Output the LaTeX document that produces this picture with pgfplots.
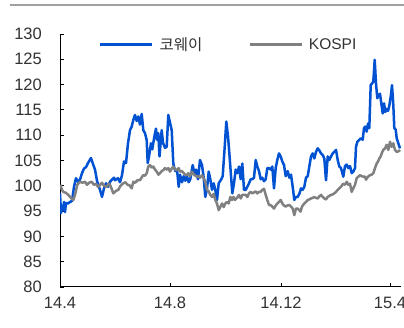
\documentclass[border=0pt]{standalone}
\usepackage{pgfplots}
\pgfplotsset{compat=1.18}
\usepackage{fontspec}
\setmainfont{Liberation Sans}
\newfontfamily\kr{Noto Sans CJK KR}
\definecolor{cwblue}{RGB}{0,82,210}
\definecolor{kgray}{RGB}{128,128,128}
\definecolor{txt}{RGB}{50,50,50}
\begin{document}
\begin{tikzpicture}[x=1pt,y=1pt]
\useasboundingbox (-60,-41) rectangle (344,287);
\draw[color={rgb,255:red,160;green,160;blue,160}, line width=1.3pt] (-50,282) -- (344,282);
\begin{axis}[
  scale only axis, width=341pt, height=253pt,
  xmin=60, xmax=401, ymin=80, ymax=130,
  axis x line*=bottom, axis y line*=left,
  axis line style={black, line width=1pt, -},
  xtick={60,170,281,390}, xticklabels={14.4,14.8,14.12,15.4},
  ytick={80,85,...,130},
  tick align=inside, major tick length=4pt,
  tick style={black, line width=0.8pt},
  /pgf/number format/assume math mode=true,
  ticklabel style={font=\fontsize{16.5}{17}\selectfont, text=txt},
  yticklabel style={inner sep=0pt, xshift=-18pt},
  xticklabel style={inner sep=0pt, yshift=-10pt},
  legend columns=2,
  legend style={draw=none, fill=none, inner sep=0pt, at={(axis description cs:0,1)}, anchor=north west, xshift=39pt, yshift=-2pt,
    font=\fontsize{15.5}{16}\selectfont, text=txt,
    nodes={inner xsep=6pt, inner ysep=1pt},
    /tikz/every even column/.append style={column sep=40pt}},
  legend image code/.code={\draw[#1] (0pt,0pt) -- (52pt,0pt);},
]
\addplot[cwblue, line width=2.5pt, line join=round] coordinates {
(60,98.5)(61,94.6)(62,96)(63,95.2)(64,96.8)(65,94.8)(66,96.6)(68,96.5)(70,96.8)(72,97)(74,99.8)(76,101.5)(78,100.8)(80,101.2)(82,102.5)(84,103.4)(86,103.7)(88,104.5)(91,105.5)(93,104.3)(95,103.2)(97,101)(100,99.2)(102,97.8)(104,99.5)(106,100.5)(108,99.8)(110,100.8)(112,101.2)(114,101.6)(115,101.1)(118,101.5)(120,100.7)(122,102.1)(124,104.8)(126,104.5)(128,108.4)(130,111)(131.7,111.7)(133.3,113)(135,114)(136.7,112.8)(138.3,113.7)(140,112.1)(141.7,114.2)(143.3,111)(145,110.4)(146.7,109)(147.7,104.5)(149,105.8)(151,108.4)(152.3,107.2)(154.3,109.7)(156,111.3)(157,109.1)(158.3,110.4)(159.5,105.8)(161.7,111)(163,108.5)(165,107.5)(166.7,107.7)(168.3,114)(170,112.5)(171.7,111)(173.3,104.4)(174,103.8)(175.3,102.9)(177,103.2)(178.7,99.8)(180,102.2)(182,100.7)(183.7,101.9)(185.3,101)(187,101.9)(188.7,100.7)(190.3,101.3)(192.7,104.1)(194.7,102.2)(196,103.2)(198,101.3)(200,105.1)(202,104.1)(203.7,101.6)(205.3,97.8)(207,99.4)(208.7,102.8)(210.3,101.3)(212,99.2)(213.7,100.5)(215.3,99.2)(217,97.2)(218.7,100.5)(221.3,101.3)(222.7,101.9)(224.7,107.7)(226.3,112.7)(228,109.8)(229.5,106)(231,102)(232.3,98.5)(234,100.5)(235.7,103.2)(237.3,102.5)(239,103.8)(240.7,101.3)(242.3,104.4)(244,99.2)(245.7,99.2)(247.3,99.8)(249,100.5)(250.7,101.3)(252.3,101.3)(254,101.6)(255.7,105.1)(257.3,103.8)(259,102.9)(260.7,101.3)(262.3,101.6)(264,100.9)(265.7,101.3)(267.3,103.5)(269,103.5)(270.7,103.2)(272.3,103.8)(274,99.5)(275.7,103.5)(277.3,105.1)(279,106.4)(280.7,105.8)(282.3,104.8)(284,104.1)(285.7,101.9)(287.7,102.9)(289.3,101.6)(291,102.2)(292.7,99.8)(294.3,97.2)(296,97.8)(297.7,97.8)(299.3,98.4)(301,99.5)(302.7,99.2)(304.3,99.8)(306,101.6)(307.7,101.9)(309.3,103.8)(311,105.8)(312.7,106.4)(314.3,105.4)(316,106.7)(317.7,107.4)(319.3,107)(321,106.4)(322.7,106.1)(324.3,105.4)(326,101.1)(327.7,105.8)(329.3,105.1)(331,105.8)(332.7,106.4)(334.3,106.7)(336,107.1)(337.7,105.1)(339.3,103.8)(341,103.5)(343.3,101.8)(345,103.9)(346.7,104.2)(348.3,103.5)(350,103.9)(351.7,102.5)(353.3,102.8)(355,103.5)(356,107.7)(357.3,108.7)(359.3,109.1)(361,109.4)(362.7,109.1)(364,111.4)(365.3,111.7)(366.7,110.7)(368,112.3)(369.3,111.4)(370.7,119.9)(372,120.2)(373.3,120.6)(374.7,124.9)(376,120.2)(377.3,117.3)(378.7,117.9)(380,118.2)(381.3,116.3)(382.7,114.3)(384,116.3)(385.3,114.6)(386.7,115.2)(388,114.8)(389.3,115.8)(390.7,117.6)(392,119.9)(393.3,116)(394.3,111.4)(395.7,111.1)(396.7,109.4)(398.3,108.4)(400,107.4)
};
\addlegendentry{{\kr 코웨이}}
\addplot[kgray, line width=2.5pt, line join=round] coordinates {
(60.3,100.2)(62,99.2)(63.3,98.8)(66,98.6)(68.3,98.2)(71,97.6)(73.3,97.2)(75,98.2)(77.3,100.2)(80,100.8)(82.5,100.6)(85,100.8)(87,100.2)(89,100.6)(91.7,100.8)(94,100.2)(96,100.4)(98,99.8)(100,100.2)(102,100.6)(104,100)(106.7,99.8)(108.5,100.4)(110,100.2)(111.5,99.5)(113.3,98.5)(116,99)(118.3,99.2)(120.5,100)(123.3,100.5)(125.5,100.7)(127.5,100.2)(129.5,100.1)(131.7,99.5)(133.3,100.8)(135,100.6)(137.5,101.1)(140,101.1)(141.5,101.6)(143.3,102.1)(145,102)(146.7,102.5)(148.3,103.8)(150,104.1)(151.7,103.6)(153.3,103.8)(155,103.2)(156.7,102.8)(158.5,102.2)(160,102.5)(161.7,102.9)(163.3,103.1)(165,103.5)(166.7,103.2)(168.3,103.5)(170,102.8)(171.7,103.4)(173.3,103.8)(175,103.2)(177,103.1)(178.7,103.5)(180,102.8)(182,102.9)(183.7,102.5)(185.3,102.2)(186.7,102.1)(188.5,102.5)(190,101.9)(192,102.8)(194,102.2)(196.7,101.8)(198.7,101.9)(200,101.6)(202,102.1)(203.7,101.5)(205.3,100.8)(207,99.2)(208.7,98.9)(210.3,98.2)(212,97.8)(213.7,98.4)(215.3,97.2)(217,96.5)(218.7,95.2)(220.3,95.8)(222,96.5)(223.7,95.8)(225.3,96.5)(227,96.8)(228.7,96.5)(230.3,97.8)(232,97.2)(233.5,97.8)(235,97.2)(237,97.6)(239,98.2)(240.7,97.5)(242.3,98.2)(244,98.2)(245.7,98.2)(247.3,97.8)(249,98.5)(250.7,98.8)(252.3,98.5)(254,98.7)(255.7,98.9)(257.3,98.5)(259,98.8)(260.7,98.8)(262.3,99.2)(264,99.4)(265.7,98.2)(267.3,97.2)(269,96.2)(270.7,96.2)(272.3,95.9)(274,95.5)(275.7,96.1)(277.3,96.5)(279,96.8)(280.7,97.2)(282.3,96.5)(284,96.1)(285.7,95.9)(287.3,96.1)(289.3,96.2)(291,95.9)(292.7,95.5)(294.3,94.2)(296,95.5)(297.7,95.5)(299.3,95.2)(300.5,94.9)(302,95.9)(304.3,96.5)(306,96.8)(307.7,97.2)(309.3,97.3)(311,97.5)(312.7,97.6)(314.3,97.8)(316,97.6)(317.7,97.5)(319.3,97.9)(321,98.2)(322.7,97.8)(324.3,97.5)(326,97.3)(327.7,97.8)(329.3,98)(331,98.2)(332.7,98.3)(334.3,98.5)(336,98.8)(337.7,99.2)(339.3,99.5)(341,99.8)(343,100.4)(345,100.2)(346.7,100.8)(348.3,100.2)(350,100.4)(351.7,98.8)(353.3,99.5)(355,100.2)(356.7,101.5)(358.3,101.8)(360,102.1)(361.7,101.9)(363.3,101.8)(365,101.8)(366,101.2)(368,101.8)(370,102.1)(371.7,102.2)(373.3,102.5)(375,103.5)(376.7,104.4)(378,104.8)(379.3,105.4)(380.7,105.8)(381.7,106.4)(383.3,107.1)(385,107.4)(386.7,108.1)(388.3,107.1)(390,108.7)(391.7,107.7)(393.3,108.4)(395,107.1)(396.7,106.7)(398.3,106.8)(400,107.1)
};
\addlegendentry{KOSPI}
\end{axis}
\end{tikzpicture}
\end{document}
